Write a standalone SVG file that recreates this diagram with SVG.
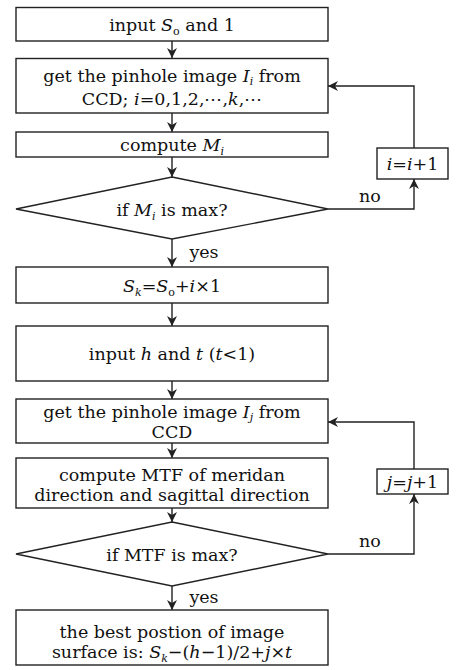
<svg xmlns="http://www.w3.org/2000/svg" width="459" height="670" viewBox="0 0 459 670">
<style>
.b{fill:#fff;stroke:#222;stroke-width:1.4}
.c{fill:none;stroke:#222;stroke-width:1.4}
text{font-family:"DejaVu Serif","Liberation Serif",serif;font-size:17.5px;fill:#111;text-anchor:middle}
.i{font-style:italic}
.s{font-size:11px}
</style>
<defs>
<marker id="a" viewBox="0 0 10 10" refX="10" refY="5" markerWidth="10" markerHeight="10" markerUnits="userSpaceOnUse" orient="auto">
<path d="M0,0 L10,5 L0,10 L3,5 z" fill="#222"/>
</marker>
</defs>
<rect width="459" height="670" fill="#fff"/>
<g id="connectors" class="c" marker-end="url(#a)">
<line x1="172" y1="41" x2="172" y2="58"/>
<line x1="172" y1="113" x2="172" y2="132"/>
<line x1="172" y1="157" x2="172" y2="177"/>
<line x1="172" y1="239" x2="172" y2="267"/>
<line x1="172" y1="303" x2="172" y2="326"/>
<line x1="172" y1="381" x2="172" y2="399"/>
<line x1="172" y1="443" x2="172" y2="458"/>
<line x1="172" y1="508" x2="172" y2="522"/>
<line x1="172" y1="586" x2="172" y2="610"/>
<polyline points="328,209 414,209 414,179"/>
<polyline points="414,148 414,86 328,86"/>
<polyline points="328,554 414,554 414,494"/>
<polyline points="414,469 414,422 328,422"/>
</g>
<g id="n1"><rect class="b" x="16" y="7.5" width="312" height="33.5"/>
<text x="172" y="31">input <tspan class="i">S</tspan><tspan class="s" dy="4">o</tspan><tspan dy="-4"> and 1</tspan></text></g>
<g id="n2"><rect class="b" x="16" y="58.5" width="312" height="54.5"/>
<text x="172" y="82">get the pinhole image <tspan class="i">I</tspan><tspan class="s i" dy="3">i</tspan><tspan dy="-3"> from</tspan></text>
<text x="172" y="104.5">CCD; <tspan class="i">i</tspan>=0,1,2,⋯,<tspan class="i">k</tspan>,⋯</text></g>
<g id="n3"><rect class="b" x="16" y="132" width="312" height="25"/>
<text x="172" y="151">compute <tspan class="i">M</tspan><tspan class="s i" dy="4">i</tspan></text></g>
<g id="n4"><polygon class="b" points="172,177 328,209 172,239 16,209"/>
<text x="172" y="216">if <tspan class="i">M</tspan><tspan class="s i" dy="4">i</tspan><tspan dy="-4"> is max?</tspan></text></g>
<g id="n5"><rect class="b" x="377" y="148" width="71" height="31"/>
<text x="412.5" y="170"><tspan class="i">i</tspan>=<tspan class="i">i</tspan>+1</text></g>
<text x="370" y="202">no</text>
<text x="204" y="258">yes</text>
<g id="n6"><rect class="b" x="16" y="267" width="312" height="36"/>
<text x="172" y="292"><tspan class="i">S</tspan><tspan class="s i" dy="4">k</tspan><tspan dy="-4">=</tspan><tspan class="i">S</tspan><tspan class="s" dy="4">o</tspan><tspan dy="-4">+</tspan><tspan class="i">i</tspan>×1</text></g>
<g id="n7"><rect class="b" x="16" y="326" width="312" height="55"/>
<text x="172" y="360">input <tspan class="i">h</tspan> and <tspan class="i">t</tspan> (<tspan class="i">t</tspan>&lt;1)</text></g>
<g id="n8"><rect class="b" x="16" y="399" width="312" height="44"/>
<text x="172" y="418">get the pinhole image <tspan class="i">I</tspan><tspan class="s i" dy="3">j</tspan><tspan dy="-3"> from</tspan></text>
<text x="172" y="438">CCD</text></g>
<g id="n9"><rect class="b" x="16" y="458" width="312" height="50"/>
<text x="172" y="481">compute MTF of meridan</text>
<text x="172" y="501">direction and sagittal direction</text></g>
<g id="n10"><polygon class="b" points="172,522 328,554 172,586 16,554"/>
<text x="172" y="561">if MTF is max?</text></g>
<g id="n11"><rect class="b" x="377" y="469" width="71" height="25"/>
<text x="412.5" y="488"><tspan class="i">j</tspan>=<tspan class="i">j</tspan>+1</text></g>
<text x="370" y="547">no</text>
<text x="204" y="603">yes</text>
<g id="n12"><rect class="b" x="16" y="610" width="312" height="55"/>
<text x="172" y="638">the best postion of image</text>
<text x="172" y="658">surface is: <tspan class="i">S</tspan><tspan class="s i" dy="4">k</tspan><tspan dy="-4">−(</tspan><tspan class="i">h</tspan>−1)/2+<tspan class="i">j</tspan>×<tspan class="i">t</tspan></text></g>
</svg>
